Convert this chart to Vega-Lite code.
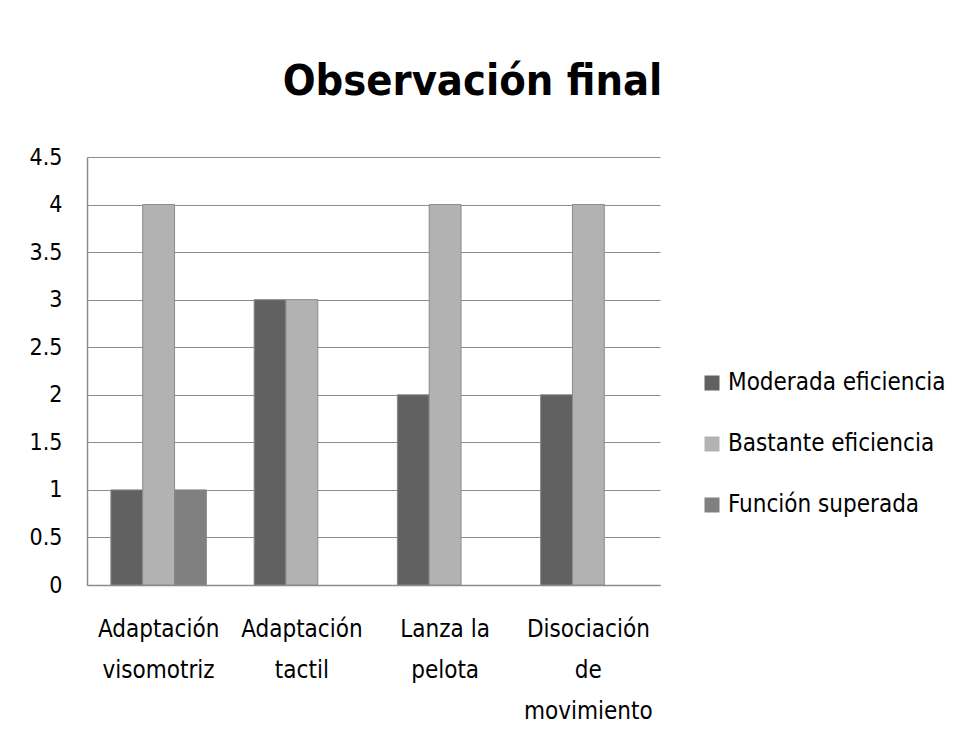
{
  "$schema": "https://vega.github.io/schema/vega-lite/v6.json",
  "autosize": {"type": "none"},
  "padding": {"left": 87, "top": 157, "right": 296, "bottom": 165},
  "width": 573,
  "height": 428,
  "background": "white",
  "title": {
    "text": "Observación final",
    "font": "DejaVu Sans Condensed",
    "fontSize": 43,
    "fontWeight": "bold",
    "color": "#000000",
    "anchor": "middle",
    "dx": 99,
    "offset": 42
  },
  "data": {
    "values": [
      {"actividad": "Adaptación visomotriz", "nivel": "Moderada eficiencia", "valor": 1},
      {"actividad": "Adaptación visomotriz", "nivel": "Bastante eficiencia", "valor": 4},
      {"actividad": "Adaptación visomotriz", "nivel": "Función superada", "valor": 1},
      {"actividad": "Adaptación tactil", "nivel": "Moderada eficiencia", "valor": 3},
      {"actividad": "Adaptación tactil", "nivel": "Bastante eficiencia", "valor": 3},
      {"actividad": "Lanza la pelota", "nivel": "Moderada eficiencia", "valor": 2},
      {"actividad": "Lanza la pelota", "nivel": "Bastante eficiencia", "valor": 4},
      {"actividad": "Disociación de movimiento", "nivel": "Moderada eficiencia", "valor": 2},
      {"actividad": "Disociación de movimiento", "nivel": "Bastante eficiencia", "valor": 4}
    ]
  },
  "mark": {"type": "bar", "stroke": "#8a8a8a", "strokeWidth": 1},
  "encoding": {
    "x": {
      "field": "actividad",
      "type": "nominal",
      "sort": ["Adaptación visomotriz", "Adaptación tactil", "Lanza la pelota", "Disociación de movimiento"],
      "scale": {"paddingInner": 0.3333, "paddingOuter": 0.1667},
      "axis": {
        "title": null,
        "labelAngle": 0,
        "ticks": false,
        "domainColor": "#8c8c8c",
        "domainWidth": 1.5,
        "labelFont": "DejaVu Sans Condensed",
        "labelFontSize": 24,
        "labelColor": "#000000",
        "labelPadding": 32,
        "labelBaseline": "top",
        "labelLineHeight": 41,
        "labelExpr": "datum.value == 'Lanza la pelota' ? ['Lanza la', 'pelota'] : split(datum.value, ' ')"
      }
    },
    "xOffset": {
      "field": "nivel",
      "type": "nominal",
      "sort": ["Moderada eficiencia", "Bastante eficiencia", "Función superada"],
      "scale": {"domain": ["Moderada eficiencia", "Bastante eficiencia", "Función superada"], "paddingInner": 0, "paddingOuter": 0}
    },
    "y": {
      "field": "valor",
      "type": "quantitative",
      "scale": {"domain": [0, 4.5], "nice": false},
      "axis": {
        "title": null,
        "values": [0, 0.5, 1, 1.5, 2, 2.5, 3, 3.5, 4, 4.5],
        "labelExpr": "toString(datum.value)",
        "ticks": false,
        "domainColor": "#8c8c8c",
        "domainWidth": 1.5,
        "gridColor": "#8c8c8c",
        "gridWidth": 1.2,
        "labelFont": "DejaVu Sans Condensed",
        "labelFontSize": 23,
        "labelColor": "#000000",
        "labelPadding": 25
      }
    },
    "color": {
      "field": "nivel",
      "type": "nominal",
      "sort": ["Moderada eficiencia", "Bastante eficiencia", "Función superada"],
      "scale": {
        "domain": ["Moderada eficiencia", "Bastante eficiencia", "Función superada"],
        "range": ["#616161", "#b2b2b2", "#808080"]
      },
      "legend": {
        "title": null,
        "orient": "none",
        "legendX": 613,
        "legendY": 214,
        "symbolType": "square",
        "symbolSize": 225,
        "symbolStrokeWidth": 0,
        "symbolOpacity": 1,
        "labelFont": "DejaVu Sans Condensed",
        "labelFontSize": 24,
        "labelLimit": 400,
        "labelColor": "#000000",
        "labelOffset": 4,
        "rowPadding": 37
      }
    }
  },
  "config": {
    "view": {"stroke": null}
  }
}
